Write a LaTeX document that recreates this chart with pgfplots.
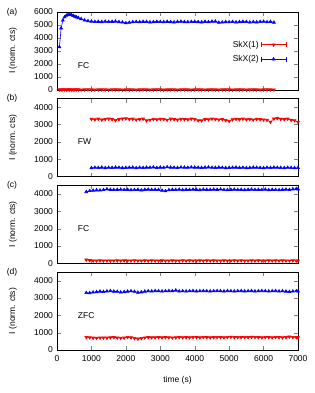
\documentclass[border=0pt]{standalone}
\usepackage{fontspec}
\setmainfont{Liberation Sans}
\usepackage{pgfplots}
\pgfplotsset{compat=1.18}
\usepackage{pgfplotstable}

\definecolor{gred}{RGB}{255,0,0}
\definecolor{gblue}{RGB}{0,0,255}

\pgfplotstableread{
t red blue
70 20 3300
120 15 4750
170 25 5350
220 20 5600
270 15 5720
320 20 5780
370 25 5800
420 20 5770
470 15 5700
520 20 5640
570 25 5590
620 20 5540
700 15 5460
800 20 5360
900 25 5300
1000 20 5270
1100 15 5240
1200 20 5250
1300 25 5230
1400 20 5260
1500 15 5240
1600 20 5250
1700 25 5270
1800 20 5230
1900 15 5200
2000 20 5150
2100 25 5180
2200 20 5230
2300 15 5240
2400 20 5220
2500 25 5250
2600 20 5240
2700 15 5210
2800 20 5230
2900 25 5250
3000 20 5240
3100 15 5220
3200 20 5250
3300 25 5230
3400 20 5210
3500 15 5240
3600 20 5260
3700 25 5230
3800 20 5220
3900 15 5240
4000 20 5250
4100 25 5230
4200 20 5210
4300 15 5250
4400 20 5220
4500 25 5260
4600 20 5270
4700 15 5180
4800 20 5200
4900 25 5230
5000 20 5220
5100 15 5240
5200 20 5210
5300 25 5230
5400 20 5250
5500 15 5240
5600 20 5200
5700 25 5230
5800 20 5210
5900 15 5240
6000 20 5260
6100 25 5220
6200 20 5250
6300 15 5190
}\tabA

\pgfplotstableread{
t red blue
1000 3320 500
1100 3290 520
1200 3330 510
1300 3280 530
1400 3310 500
1500 3340 520
1600 3300 510
1700 3250 530
1800 3300 520
1900 3340 500
2000 3350 510
2100 3310 520
2200 3330 530
2300 3280 500
2400 3300 520
2500 3330 510
2600 3230 530
2700 3270 520
2800 3310 540
2900 3290 510
3000 3320 530
3100 3310 520
3200 3270 550
3300 3330 530
3400 3300 520
3500 3280 510
3600 3320 540
3700 3300 530
3800 3290 520
3900 3330 540
4000 3310 530
4100 3240 520
4200 3230 510
4300 3300 530
4400 3290 540
4500 3330 520
4600 3310 510
4700 3280 530
4800 3300 520
4900 3250 500
5000 3200 510
5100 3290 520
5200 3320 530
5300 3300 510
5400 3330 520
5500 3290 500
5600 3310 510
5700 3280 530
5800 3320 520
5900 3300 510
6000 3280 500
6100 3270 520
6200 3150 510
6300 3340 530
6400 3360 520
6500 3320 510
6600 3300 500
6700 3330 520
6800 3260 510
6900 3240 500
7000 3150 510
}\tabB

\pgfplotstableread{
t cred cblue dred dblue
850 200 4120 740 3300
950 170 4180 720 3290
1050 150 4200 700 3330
1150 150 4220 690 3350
1250 160 4210 700 3380
1350 150 4240 710 3360
1450 150 4280 700 3390
1550 150 4250 720 3410
1650 150 4240 730 3380
1750 160 4250 710 3370
1850 150 4260 690 3330
1950 160 4240 700 3350
2050 150 4250 740 3380
2150 150 4230 720 3400
2250 160 4240 680 3370
2350 150 4250 650 3320
2450 150 4220 680 3340
2550 160 4250 710 3380
2650 150 4260 730 3400
2750 160 4240 720 3390
2850 150 4250 720 3410
2950 150 4240 730 3400
3050 160 4200 720 3390
3150 150 4170 730 3400
3250 150 4230 720 3410
3350 160 4250 710 3400
3450 150 4240 720 3440
3550 150 4260 730 3390
3650 160 4230 720 3400
3750 150 4250 730 3390
3850 160 4240 720 3400
3950 150 4260 740 3410
4050 150 4250 730 3390
4150 160 4230 720 3400
4250 150 4260 740 3410
4350 160 4250 730 3400
4450 150 4240 720 3390
4550 160 4260 730 3400
4650 150 4250 740 3410
4750 150 4270 730 3400
4850 160 4240 720 3390
4950 150 4230 740 3410
5050 150 4250 750 3400
5150 160 4260 730 3390
5250 150 4240 740 3400
5350 160 4250 730 3410
5450 150 4230 740 3390
5550 150 4250 730 3400
5650 160 4260 750 3410
5750 150 4240 740 3390
5850 160 4250 730 3400
5950 150 4240 720 3410
6050 150 4260 740 3400
6150 160 4230 730 3390
6250 150 4250 720 3400
6350 160 4240 740 3410
6450 150 4230 730 3390
6550 160 4250 720 3400
6650 150 4260 730 3380
6750 150 4240 760 3360
6850 160 4280 740 3390
6950 150 4290 730 3400
7000 150 4280 720 3390
}\tabCD

\pgfplotsset{
  panel/.style={
    width=241pt, height=78pt, scale only axis,
    xmin=0, xmax=7000, xtick={0,1000,...,7000},
    ymin=0, clip mode=individual,
    tick align=inside, major tick length=4pt,
    /pgf/number format/assume math mode=true,
    /pgf/number format/set thousands separator={},
    tick label style={font=\fontsize{8.5}{10}\selectfont},
    xticklabel style={yshift=-3pt},
    yticklabel style={xshift=-1pt},
    label style={font=\fontsize{8.5}{10}\selectfont},
    ylabel={I (norm. cts)},
    every axis y label/.style={at={(rel axis cs:0,0.5)}, xshift=-37pt, anchor=south, rotate=90},
    every axis x label/.style={at={(rel axis cs:0.5,0)}, yshift=-23pt, anchor=north},
    axis line style={black, line width=0.5pt},
  },
  redser/.style={color=gred, line width=0.6pt, mark=triangle*, mark size=1.7pt, mark options={rotate=180, solid}},
  blueser/.style={color=gblue, line width=0.6pt, mark=triangle*, mark size=1.7pt, mark options={solid}},
}

\begin{document}
\fontsize{8.5}{10}\selectfont
\begin{tikzpicture}
\useasboundingbox (-57pt,-43pt) rectangle (257pt,350pt);
% (a)
\begin{axis}[panel, at={(0,260.1pt)}, ymax=6000, ytick={0,1000,...,6000}, xticklabels={},
  name=pa,
  legend style={draw=none, fill=none, at={(rel axis cs:0.965,0.68)}, anchor=north east, row sep=3pt, font=\fontsize{8.5}{10}\selectfont},
  legend cell align=right, legend plot pos=right,
  legend image code/.code={
    \draw[#1, mark=none] (0pt,0pt) -- (25pt,0pt);
    \draw[#1, mark=none] (0pt,-2.5pt) -- (0pt,2.5pt);
    \draw[#1, mark=none] (25pt,-2.5pt) -- (25pt,2.5pt);
    \draw[#1, only marks] plot coordinates {(12.5pt,0pt)};
  }]
\addplot[redser] table[x=t, y=red] {\tabA};
\addlegendentry{SkX(1)}
\addplot[blueser] table[x=t, y=blue] {\tabA};
\addlegendentry{SkX(2)}
\node[anchor=west] at (axis cs:520,1900) {FC};
\end{axis}
% (b)
\begin{axis}[panel, at={(0,173.4pt)}, ymax=4500, ytick={0,1000,...,4000}, xticklabels={}, name=pb]
\addplot[redser] table[x=t, y=red] {\tabB};
\addplot[blueser] table[x=t, y=blue] {\tabB};
\node[anchor=west] at (axis cs:520,2000) {FW};
\end{axis}
% (c)
\begin{axis}[panel, at={(0,86.7pt)}, ymax=4500, ytick={0,1000,...,4000}, xticklabels={}, name=pc]
\addplot[redser] table[x=t, y=cred] {\tabCD};
\addplot[blueser] table[x=t, y=cblue] {\tabCD};
\node[anchor=west] at (axis cs:520,2000) {FC};
\end{axis}
% (d)
\begin{axis}[panel, at={(0,0pt)}, ymax=4500, ytick={0,1000,...,4000}, xlabel={time (s)}, name=pd]
\addplot[redser] table[x=t, y=dred] {\tabCD};
\addplot[blueser] table[x=t, y=dblue] {\tabCD};
\node[anchor=west] at (axis cs:520,2000) {ZFC};
\end{axis}
\node at ([xshift=-45pt]pa.north west) {(a)};
\node at ([xshift=-45pt]pb.north west) {(b)};
\node at ([xshift=-45pt]pc.north west) {(c)};
\node at ([xshift=-45pt]pd.north west) {(d)};
\end{tikzpicture}
\end{document}
